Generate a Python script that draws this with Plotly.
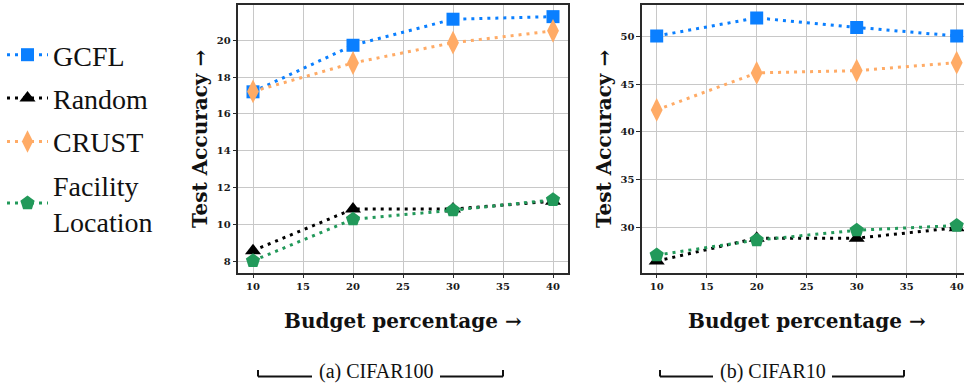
import plotly.graph_objects as go

budget = [10, 20, 30, 40]

# CIFAR100
c100_gcfl = [17.2, 19.72, 21.13, 21.27]
c100_random = [8.6, 10.85, 10.85, 11.28]
c100_crust = [17.22, 18.76, 19.86, 20.5]
c100_facility = [8.05, 10.3, 10.79, 11.35]

# CIFAR10
c10_gcfl = [50.05, 51.95, 50.95, 50.05]
c10_random = [26.45, 28.85, 28.85, 29.95]
c10_crust = [42.3, 46.18, 46.42, 47.25]
c10_facility = [27.08, 28.65, 29.68, 30.17]

series_names = ["GCFL", "Random", "CRUST", "Facility<br>Location"]
colors = ["#0a7fff", "#000000", "#ffab66", "#22995a"]
symbols = ["square", "triangle-up", "diamond-tall", "pentagon"]
msizes = [13, 14, 17, 15]

x_ticks = [10, 15, 20, 25, 30, 35, 40]
y1_ticks = [8, 10, 12, 14, 16, 18, 20]
y2_ticks = [30, 35, 40, 45, 50]

W, H = 964, 384

fig = go.Figure()

panels = [
    ([c100_gcfl, c100_random, c100_crust, c100_facility], "x", "y", True),
    ([c10_gcfl, c10_random, c10_crust, c10_facility], "x2", "y2", False),
]
for data, xa, ya, show in panels:
    for i, vals in enumerate(data):
        fig.add_trace(go.Scatter(
            x=budget, y=vals, xaxis=xa, yaxis=ya,
            mode="lines+markers", name=series_names[i],
            legendgroup="g%d" % i, showlegend=show,
            line=dict(color=colors[i], width=3, dash="3px,5px"),
            marker=dict(symbol=symbols[i], size=msizes[i], color=colors[i],
                        line=dict(width=0)),
        ))

axis_common = dict(
    showgrid=True, gridcolor="#c8c8c8", gridwidth=1.3,
    zeroline=False, showline=True, linecolor="#2a2a2a", linewidth=1.5,
    ticks="outside", ticklen=3.5, tickwidth=1.2, tickcolor="#2a2a2a",
    tickfont=dict(family="DejaVu Serif", size=10, color="#1a1a1a", weight="bold"),
)

y_dom = [1 - 273 / H, 1 - 5 / H]

fig.update_layout(
    width=W, height=H,
    margin=dict(l=0, r=0, t=0, b=0),
    plot_bgcolor="white", paper_bgcolor="white",
    xaxis=dict(domain=[238 / W, 568 / W], range=[8.5, 41.5], tickvals=x_ticks,
               mirror=True, anchor="y", **axis_common),
    yaxis=dict(domain=y_dom, range=[7.39, 21.9], tickvals=y1_ticks,
               mirror=True, anchor="x", **axis_common),
    xaxis2=dict(domain=[641.7 / W, 1.0], range=[8.5, 40.73], tickvals=x_ticks,
                mirror=True, anchor="y2", **axis_common),
    yaxis2=dict(domain=y_dom, range=[25.2, 53.3], tickvals=y2_ticks,
                mirror=False, anchor="x2", **axis_common),
    legend=dict(x=2 / W, y=1 - 30 / H, xanchor="left", yanchor="top",
                font=dict(family="Liberation Serif", size=28, color="#111111"),
                itemwidth=41, tracegroupgap=4, bgcolor="rgba(0,0,0,0)",
                traceorder="grouped"),
)

title_font = dict(family="DejaVu Serif", size=20, color="#111111", weight="bold")
ann = []
for cx, cyx in [(403, 200), (806.7, 604)]:
    ann.append(dict(text="Budget percentage →", x=cx / W, y=1 - 321 / H,
                    xref="paper", yref="paper", showarrow=False,
                    xanchor="center", yanchor="middle", font=title_font))
    ann.append(dict(text="Test Accuracy →", x=cyx / W, y=1 - 139 / H,
                    xref="paper", yref="paper", showarrow=False, textangle=-90,
                    xanchor="center", yanchor="middle", font=title_font))

cap_font = dict(family="Liberation Serif", size=20, color="#111111")
captions = [("(a) CIFAR100", 258, 312, 440, 503), ("(b) CIFAR10", 660, 713, 832, 904)]
shapes = []
for txt, a, b, c, d in captions:
    ann.append(dict(text=txt, x=(b + c) / 2 / W, y=1 - 371 / H, xref="paper", yref="paper",
                    showarrow=False, xanchor="center", yanchor="middle", font=cap_font))
    line = dict(color="#111111", width=2)
    yb = 1 - 376.5 / H
    yt = 1 - 370 / H
    shapes.append(dict(type="line", xref="paper", yref="paper", x0=a / W, x1=b / W, y0=yb, y1=yb, line=line))
    shapes.append(dict(type="line", xref="paper", yref="paper", x0=c / W, x1=d / W, y0=yb, y1=yb, line=line))
    shapes.append(dict(type="line", xref="paper", yref="paper", x0=a / W, x1=a / W, y0=yb, y1=yt, line=line))
    shapes.append(dict(type="line", xref="paper", yref="paper", x0=d / W, x1=d / W, y0=yb, y1=yt, line=line))

fig.update_layout(annotations=ann, shapes=shapes)
fig.write_html("out.html", config={"displayModeBar": False},
               post_script="document.body.style.margin='0px';document.body.style.overflow='hidden';")
